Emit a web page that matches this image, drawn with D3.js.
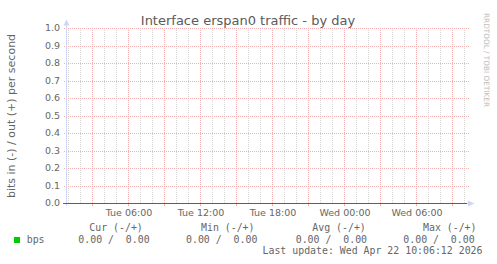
<!DOCTYPE html>
<html>
<head>
<meta charset="utf-8">
<script src="https://cdn.jsdelivr.net/npm/d3@7"></script>
<style>
  html, body { margin: 0; padding: 0; background: #fff; }
  svg { display: block; }
  text { font-family: "DejaVu Sans", sans-serif; fill: #666; }
  .mono { font-family: "DejaVu Sans Mono", monospace; font-size: 9.9px; }
</style>
</head>
<body>
<svg id="chart" width="497" height="264"></svg>
<script>
// data: the whole window is flat zero
var sampleTimes = [new Date(2026, 3, 21, 0, 55), new Date(2026, 3, 22, 10, 15)];
var bpsIn = [0, 0];
var bpsOut = [0, 0];

var statHeaders = ['Cur (-/+)', 'Min (-/+)', 'Avg (-/+)', 'Max (-/+)'];
var statIn = [0, 0, 0, 0];
var statOut = [0, 0, 0, 0];
var seriesName = 'bps';
var lastUpdate = 'Last update: Wed Apr 22 10:06:12 2026';
var title = 'Interface erspan0 traffic - by day';
var yLabel = 'bits in (-) / out (+) per second';
var watermark = 'RRDTOOL / TOBI OETIKER';

var plot = { left: 67, right: 467, top: 28, bottom: 203 };
var red = '#f4b0b0', grey = '#d4d4d4', axisColor = '#cfd6f8', green = '#00cc00';

var svg = d3.select('#chart');

var x = d3.scaleTime()
  .domain([sampleTimes[0], sampleTimes[sampleTimes.length - 1]])
  .range([plot.left, plot.right]);

var y = d3.scaleLinear()
  .domain([0, 1])
  .range([plot.bottom, plot.top]);

function px(v) { return Math.round(v) + 0.5; }

// minor vertical grid, every hour
svg.append('g')
  .selectAll('line')
  .data(x.ticks(d3.timeHour.every(1)).filter(function (d) { return d.getHours() % 3 !== 0; }))
  .enter().append('line')
    .attr('x1', function (d) { return px(x(d)); })
    .attr('x2', function (d) { return px(x(d)); })
    .attr('y1', plot.top)
    .attr('y2', plot.bottom)
    .attr('stroke', grey)
    .attr('stroke-dasharray', '1,1');

// major vertical grid, every 3 hours
var major = svg.append('g')
  .selectAll('g')
  .data(x.ticks(d3.timeHour.every(3)))
  .enter().append('g');

major.append('line')
  .attr('x1', function (d) { return px(x(d)); })
  .attr('x2', function (d) { return px(x(d)); })
  .attr('y1', plot.top)
  .attr('y2', plot.bottom)
  .attr('stroke', red)
  .attr('stroke-dasharray', '1,1');

major.append('line')
  .attr('x1', function (d) { return px(x(d)); })
  .attr('x2', function (d) { return px(x(d)); })
  .attr('y1', plot.bottom)
  .attr('y2', plot.bottom + 3)
  .attr('stroke', red);

// horizontal grid + labels
var yTicks = y.ticks(10);

svg.append('g')
  .selectAll('line')
  .data(yTicks)
  .enter().append('line')
    .attr('x1', plot.left - 3)
    .attr('x2', plot.right + 2)
    .attr('y1', function (d) { return px(y(d)); })
    .attr('y2', function (d) { return px(y(d)); })
    .attr('stroke', red)
    .attr('stroke-dasharray', '1,1');

svg.append('g')
  .selectAll('text')
  .data(yTicks)
  .enter().append('text')
    .attr('x', 60)
    .attr('y', function (d) { return y(d); })
    .attr('dy', '0.36em')
    .attr('text-anchor', 'end')
    .style('font-size', '9.5px')
    .text(d3.format('.1f'));

// time labels every 6 hours
svg.append('g')
  .selectAll('text')
  .data(x.ticks(d3.timeHour.every(6)))
  .enter().append('text')
    .attr('x', function (d) { return x(d) + 1; })
    .attr('y', 216)
    .attr('text-anchor', 'middle')
    .style('font-size', '9.5px')
    .text(d3.timeFormat('%a %H:%M'));

// series (in drawn negative, out positive)
var line = d3.line()
  .x(function (d, i) { return x(sampleTimes[i]); })
  .y(function (d) { return px(y(d)); });

svg.append('path')
  .datum(bpsIn.map(function (v) { return -v; }))
  .attr('d', line)
  .attr('fill', 'none')
  .attr('stroke', green);

svg.append('path')
  .datum(bpsOut)
  .attr('d', line)
  .attr('fill', 'none')
  .attr('stroke', green);

// axes
svg.append('line')
  .attr('x1', plot.left - 0.5)
  .attr('x2', plot.left - 0.5)
  .attr('y1', plot.bottom + 3)
  .attr('y2', plot.top - 4)
  .attr('stroke', axisColor);

svg.append('path')
  .attr('d', 'M' + (plot.left - 3.5) + ',' + (plot.top - 2.5) +
    'L' + (plot.left - 0.5) + ',' + (plot.top - 8.5) +
    'L' + (plot.left + 2.5) + ',' + (plot.top - 2.5) + 'Z')
  .attr('fill', axisColor);

svg.append('line')
  .attr('x1', plot.right)
  .attr('x2', plot.right + 3)
  .attr('y1', plot.bottom + 0.5)
  .attr('y2', plot.bottom + 0.5)
  .attr('stroke', axisColor);

svg.append('path')
  .attr('d', 'M' + (plot.right + 1) + ',' + (plot.bottom - 2.5) +
    'L' + (plot.right + 7.5) + ',' + (plot.bottom + 0.5) +
    'L' + (plot.right + 1) + ',' + (plot.bottom + 3.5) + 'Z')
  .attr('fill', axisColor);

svg.append('line')
  .attr('x1', plot.left - 4)
  .attr('x2', plot.right)
  .attr('y1', px(y(0)))
  .attr('y2', px(y(0)))
  .attr('stroke', '#5e5e6e');

// titles
svg.append('text')
  .attr('x', 248)
  .attr('y', 24.5)
  .attr('text-anchor', 'middle')
  .style('font-size', '13px')
  .style('fill', '#5a5a5a')
  .text(title);

svg.append('text')
  .attr('transform', 'translate(15,' + ((plot.top + plot.bottom) / 2 + 0.5) + ') rotate(-90)')
  .attr('text-anchor', 'middle')
  .style('font-size', '11px')
  .text(yLabel);

svg.append('text')
  .attr('transform', 'translate(484,13) rotate(90)')
  .style('font-size', '7.3px')
  .style('fill', '#bdbdbd')
  .text(watermark);

// legend
var headerX = [89.3, 201, 312.3, 423];
var valueX = [78.3, 186, 295.7, 403.3];
var fmt = d3.format('.2f');

svg.append('g')
  .selectAll('text')
  .data(statHeaders)
  .enter().append('text')
    .attr('class', 'mono')
    .attr('x', function (d, i) { return headerX[i]; })
    .attr('y', 231)
    .text(function (d) { return d; });

svg.append('rect')
  .attr('x', 14)
  .attr('y', 237)
  .attr('width', 6)
  .attr('height', 6)
  .attr('fill', green);

svg.append('text')
  .attr('class', 'mono')
  .attr('x', 26.7)
  .attr('y', 243)
  .text(seriesName);

svg.append('g')
  .selectAll('text')
  .data(statIn)
  .enter().append('text')
    .attr('class', 'mono')
    .attr('x', function (d, i) { return valueX[i]; })
    .attr('y', 243)
    .style('white-space', 'pre')
    .text(function (d, i) { return fmt(d) + ' /  ' + fmt(statOut[i]); });

svg.append('text')
  .attr('class', 'mono')
  .attr('x', 482.5)
  .attr('y', 254)
  .attr('text-anchor', 'end')
  .text(lastUpdate);
</script>
</body>
</html>
